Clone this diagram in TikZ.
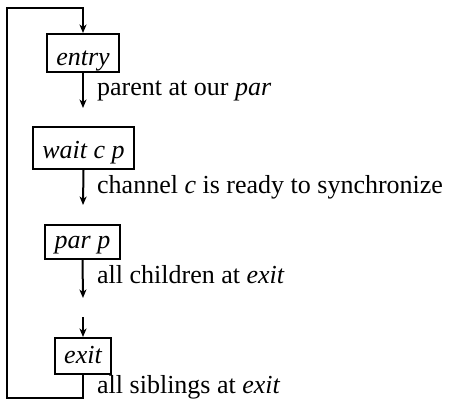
\documentclass[tikz,border=0pt]{standalone}
\usepackage{fontspec}
\setmainfont{Liberation Serif}
\usetikzlibrary{arrows.meta}
\begin{document}
\begin{tikzpicture}[x=1pt,y=-1pt,
  statebox/.style={draw,line width=2pt,inner xsep=9.5pt,inner ysep=0pt,anchor=base,font=\fontsize{26}{30}\selectfont\itshape},
  lbl/.style={anchor=base west,inner sep=0pt,font=\fontsize{26}{30}\selectfont},
  flow/.style={line width=2pt,-{Stealth[length=8.5pt,width=7pt,inset=2.5pt]}}]
\useasboundingbox (0,0) rectangle (453,402);
\node[statebox,text height=31pt,text depth=7pt] (entry) at (83,65) {entry};
\node[statebox,text height=31pt,text depth=11pt] (wait) at (83.5,158) {wait c p};
\node[statebox,text height=23pt,text depth=11pt] (par) at (82.5,248) {par p};
\node[statebox,text height=25pt,text depth=11pt] (exit) at (83,363) {exit};
\coordinate (e1) at (83,108);
\coordinate (w1) at (83,205);
\coordinate (p1) at (83,298);
\coordinate (x0) at (83,317);
\coordinate (b1) at (83,398);
\coordinate (b2) at (7,398);
\coordinate (t1) at (7,8);
\coordinate (t2) at (83,8);
\draw[flow] (entry.south) -- (e1);
\draw[flow] (wait.south) -- (w1);
\draw[flow] (par.south) -- (p1);
\draw[flow] (x0) -- (exit.north);
\draw[flow] (exit.south) -- (b1) -- (b2) -- (t1) -- (t2) -- (entry.north);
\node[lbl] (l1) at (97,95) {parent at our \textit{par}};
\node[lbl] (l2) at (97,193) {channel \textit{c} is ready to synchronize};
\node[lbl] (l3) at (97,283) {all children at \textit{exit}};
\node[lbl] (l4) at (97,393) {all siblings at \textit{exit}};
\end{tikzpicture}
\end{document}
